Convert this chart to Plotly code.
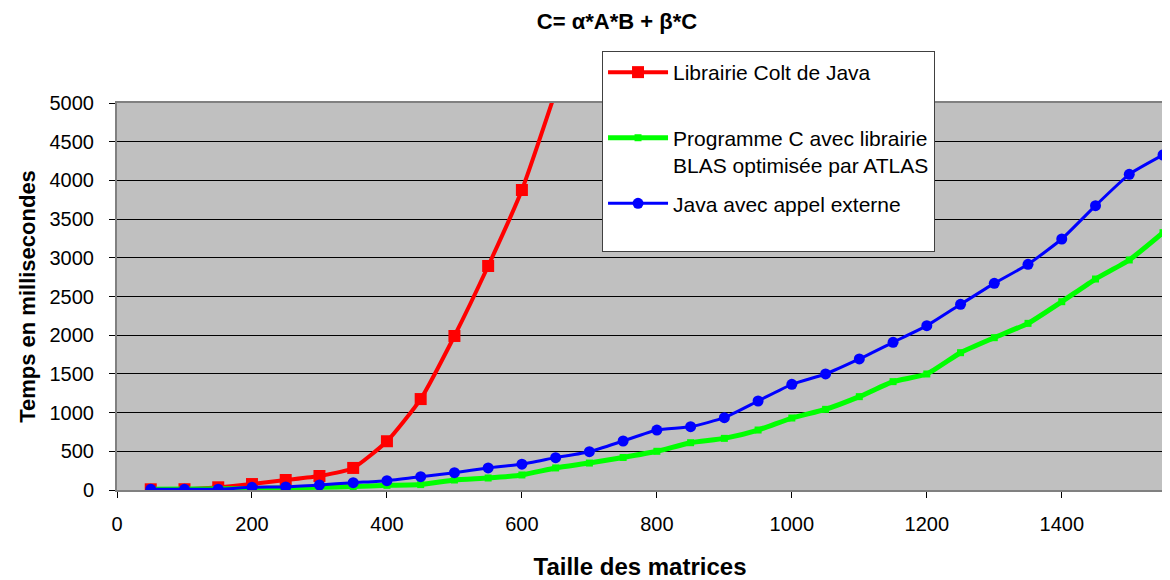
import plotly.graph_objects as go

sizes = [50, 100, 150, 200, 250, 300, 350, 400, 450, 500, 550, 600, 650, 700, 750,
         800, 850, 900, 950, 1000, 1050, 1100, 1150, 1200, 1250, 1300, 1350, 1400,
         1450, 1500, 1550]

colt_sizes = [50, 100, 150, 200, 250, 300, 350, 400, 450, 500, 550, 600, 650]
colt_ms = [9, 10, 35, 77, 129, 181, 285, 630, 1175, 1990, 2894, 3876, 5150]

blas_ms = [10, 12, 15, 20, 28, 35, 45, 60, 70, 129, 155, 194, 285, 348, 420,
           500, 611, 667, 775, 930, 1042, 1206, 1400, 1499, 1774, 1968, 2153, 2433,
           2726, 2972, 3325]

extern_ms = [9, 9, 10, 35, 40, 65, 95, 120, 172, 224, 285, 333, 418, 495, 633,
             775, 818, 934, 1150, 1365, 1499, 1693, 1908, 2123, 2399, 2670, 2916, 3243,
             3674, 4078, 4328]

names = ["Librairie Colt de Java<br> ",
         "Programme C avec librairie<br>BLAS optimisée par ATLAS",
         "Java avec appel externe<br> "]

FONT = "Liberation Sans, Arial, sans-serif"

fig = go.Figure()
fig.add_trace(go.Scatter(x=colt_sizes, y=colt_ms, name=names[0], mode="lines+markers",
                         line=dict(color="#FF0000", width=4, shape="spline", smoothing=0.5),
                         marker=dict(symbol="square", size=12, color="#FF0000"),
                         legendgroup="a"))
fig.add_trace(go.Scatter(x=sizes, y=blas_ms, name=names[1], mode="lines+markers",
                         line=dict(color="#00FF00", width=5, shape="spline", smoothing=0.5),
                         marker=dict(symbol="square", size=7, color="#00FF00"),
                         legendgroup="b"))
fig.add_trace(go.Scatter(x=sizes, y=extern_ms, name=names[2], mode="lines+markers",
                         line=dict(color="#0000FF", width=3, shape="spline", smoothing=0.5),
                         marker=dict(symbol="circle", size=11, color="#0000FF"),
                         legendgroup="c"))

fig.update_layout(
    width=1162, height=572,
    margin=dict(l=109, r=7, t=95, b=90, autoexpand=False),
    paper_bgcolor="white",
    plot_bgcolor="#C0C0C0",
    font=dict(family=FONT, size=20, color="black"),
    title=dict(text="<b>C= α*A*B + β*C</b>", x=0.478, xref="paper", xanchor="center",
               y=1 - 13 / 572, yref="container", yanchor="middle",
               font=dict(family=FONT, size=22, color="black")),
    showlegend=True,
    legend=dict(x=0.4637, y=1.1344, xanchor="left", yanchor="top",
                bgcolor="white", bordercolor="#404040", borderwidth=1,
                font=dict(family=FONT, size=21, color="black"),
                valign="top", tracegroupgap=8, itemwidth=60,
                traceorder="grouped"),
    xaxis=dict(range=[0, 1550], tick0=0, dtick=200, showgrid=False, zeroline=False,
               showline=True, linecolor="#808080", linewidth=2, mirror=True,
               ticks="outside", ticklen=6, tickcolor="black", tickwidth=1,
               ticklabelstandoff=9, automargin=False,
               tickfont=dict(family=FONT, size=20),
               title=dict(text="<b>Taille des matrices</b>", standoff=27,
                          font=dict(family=FONT, size=24))),
    yaxis=dict(range=[0, 5000], tick0=0, dtick=500, showgrid=True, gridcolor="black",
               gridwidth=1, zeroline=False,
               showline=True, linecolor="#808080", linewidth=2, mirror=True,
               ticks="outside", ticklen=6, tickcolor="black", tickwidth=1,
               ticklabelstandoff=11, automargin=False,
               tickfont=dict(family=FONT, size=20),
               title=dict(text="<b>Temps en millisecondes</b>", standoff=8,
                          font=dict(family=FONT, size=22))),
)

fig.write_html("out.html")
